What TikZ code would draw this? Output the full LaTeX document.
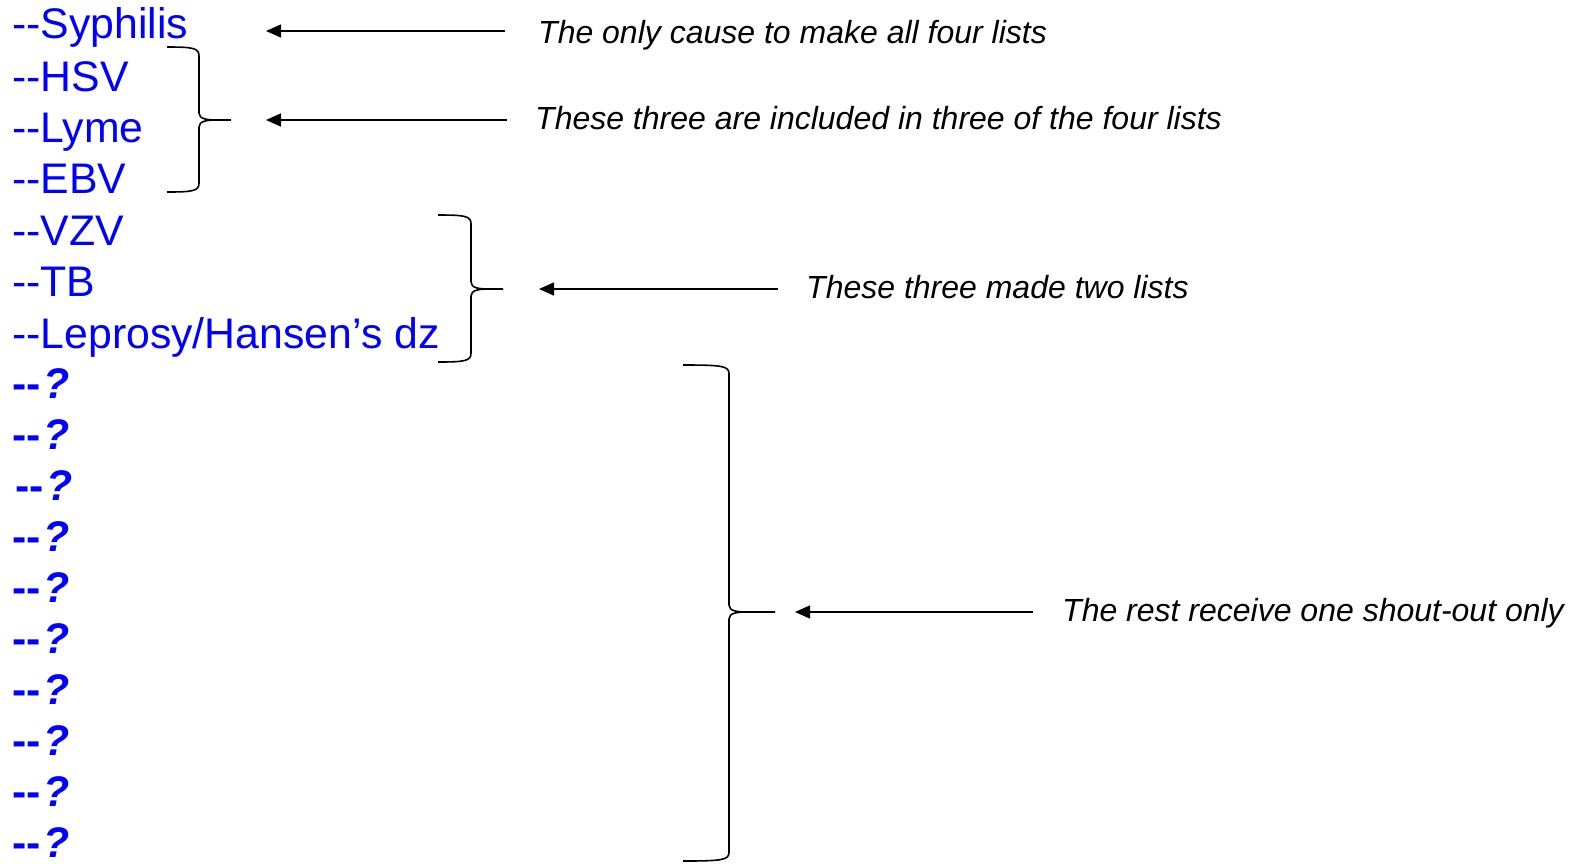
\documentclass[tikz,border=0pt]{standalone}
\usepackage{fontspec}
\setmainfont{Liberation Sans}[Ligatures=TeXOff]
\usetikzlibrary{arrows.meta}
\tikzset{
  x=1pt, y=-1pt,
  item/.style={anchor=base west, inner sep=0pt, text=blue, font=\fontsize{42.8}{48}\selectfont},
  note/.style={anchor=base west, inner sep=0pt, font=\fontsize{32}{36}\selectfont\itshape},
  pointer/.style={line width=1.5pt, -{Triangle[length=15pt,width=13pt]}},
  bracket/.style={line width=1.6pt, line join=round},
}
% curly brace: #1 end x, #2 spine x, #3 tip x, #4 top y, #5 middle y, #6 bottom y
\newcommand\curlybrace[6]{%
  \draw[bracket] (#1,#4) .. controls (#2-6,#4) and (#2,#4+1) .. (#2,#4+9)
    -- (#2,#5-7) .. controls (#2,#5-1) and (#2+8,#5) .. (#2+18,#5) -- (#3,#5);
  \draw[bracket] (#2+18,#5) .. controls (#2+8,#5) and (#2,#5+1) .. (#2,#5+7)
    -- (#2,#6-9) .. controls (#2,#6-1) and (#2-6,#6) .. (#1,#6);
}
\newcommand\unknown{\textbf{--\kern3pt\textit{?}}}
\begin{document}
\begin{tikzpicture}
\useasboundingbox (0,0) rectangle (1574,863);

% the list of causes
\node[item] (syph) at (12,38)  {--Syphilis};
\node[item] (hsv)  at (12,91)  {--HSV};
\node[item] (lyme) at (12,142) {--Lyme};
\node[item] (ebv)  at (12,193) {--EBV};
\node[item] (vzv)  at (12,245) {--VZV};
\node[item] (tb)   at (12,296) {--TB};
\node[item] (lep)  at (12,348) {--Leprosy/Hansen’s dz};
\node[item] (q1)  at (12,398) {\unknown};
\node[item] (q2)  at (12,449) {\unknown};
\node[item] (q3)  at (15,500) {\unknown};
\node[item] (q4)  at (12,551) {\unknown};
\node[item] (q5)  at (12,602) {\unknown};
\node[item] (q6)  at (12,653) {\unknown};
\node[item] (q7)  at (12,704) {\unknown};
\node[item] (q8)  at (12,755) {\unknown};
\node[item] (q9)  at (12,806) {\unknown};
\node[item] (q10) at (12,857) {\unknown};

% braces grouping the list
\curlybrace{167}{199}{231}{47}{120}{192}
\curlybrace{438}{471}{503}{215}{289}{362}
\curlybrace{683}{729}{775}{365}{612}{861}

% explanatory notes
\node[note] (n1) at (538,43)   {The only cause to make all four lists};
\node[note] (n2) at (535,129)  {These three are included in three of the four lists};
\node[note] (n3) at (806,298)  {These three made two lists};
\node[note] (n4) at (1062,621) {The rest receive one shout-out only};

% arrow targets
\coordinate (p1) at (266,31);
\coordinate (p2) at (266,120);
\coordinate (p3) at (539,289);
\coordinate (p4) at (795,612);

\draw[pointer] ([xshift=-33pt]n1.west |- p1) -- (p1);
\draw[pointer] ([xshift=-28pt]n2.west |- p2) -- (p2);
\draw[pointer] ([xshift=-28pt]n3.west |- p3) -- (p3);
\draw[pointer] ([xshift=-29pt]n4.west |- p4) -- (p4);
\end{tikzpicture}
\end{document}
